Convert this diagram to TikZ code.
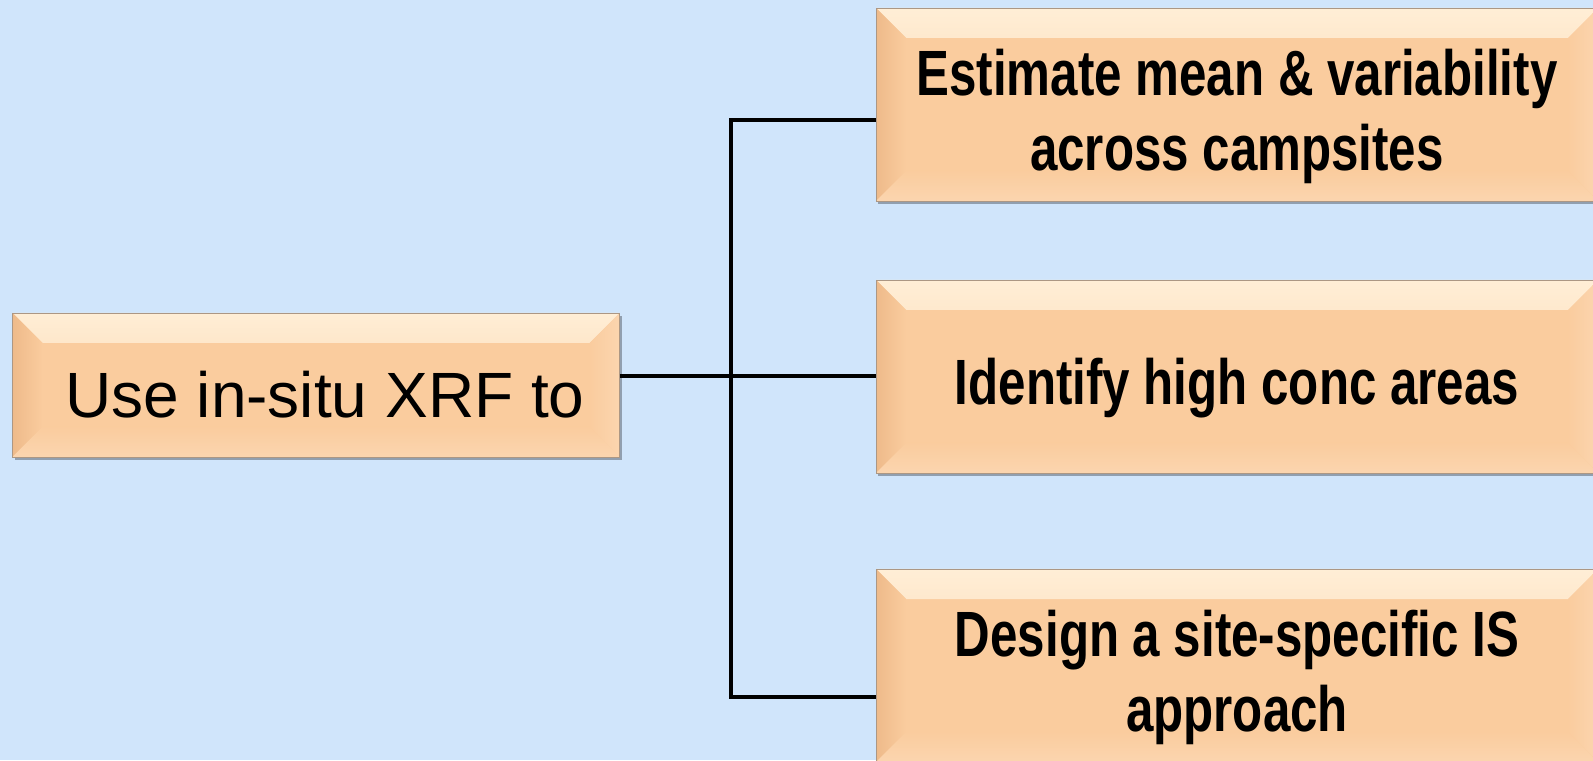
\documentclass[tikz,border=0pt]{standalone}
\usepackage{fontspec}
\usetikzlibrary{positioning, shadows}
\newfontfamily\leadfont{Liberation Sans}
\newfontfamily\taskfont[FakeStretch=0.77]{Liberation Sans}
\definecolor{bgblue}{RGB}{208,229,251}
\definecolor{peach}{RGB}{250,204,158}
\definecolor{peachlight}{RGB}{255,238,214}
\definecolor{peachedge}{RGB}{238,186,138}
\definecolor{peachpale}{RGB}{251,213,175}
\newcommand{\bevw}{15pt}
\tikzset{
  bevelbox/.style = {fill=peach, draw=gray!60!peachedge, line width=0.4pt, inner sep=0pt,
                     align=center,
                     drop shadow={shadow xshift=1pt, shadow yshift=-1.3pt, fill=black, opacity=0.3},
                     path picture={
    \shade[top color=peachlight, bottom color=peach] (path picture bounding box.north west)
      -- (path picture bounding box.north east)
      -- ([shift={(-\bevw,-\bevw)}]path picture bounding box.north east)
      -- ([shift={(\bevw,-\bevw)}]path picture bounding box.north west) -- cycle;
    \shade[left color=peachedge, right color=peach] (path picture bounding box.north west)
      -- (path picture bounding box.south west)
      -- ([shift={(\bevw,\bevw)}]path picture bounding box.south west)
      -- ([shift={(\bevw,-\bevw)}]path picture bounding box.north west) -- cycle;
    \shade[left color=peach, right color=peachpale] (path picture bounding box.north east)
      -- (path picture bounding box.south east)
      -- ([shift={(-\bevw,\bevw)}]path picture bounding box.south east)
      -- ([shift={(-\bevw,-\bevw)}]path picture bounding box.north east) -- cycle;
    \shade[top color=peach, bottom color=peachpale] (path picture bounding box.south west)
      -- (path picture bounding box.south east)
      -- ([shift={(-\bevw,\bevw)}]path picture bounding box.south east)
      -- ([shift={(\bevw,\bevw)}]path picture bounding box.south west) -- cycle;
  }},
  leadbox/.style  = {bevelbox, minimum width=303.5pt, minimum height=72pt,
                     font=\leadfont\fontsize{32}{38}\selectfont,
                     execute at begin node={\hspace*{9pt}\rule{0pt}{33pt}}},
  taskbox/.style  = {bevelbox, minimum width=361pt, minimum height=96.5pt,
                     font=\taskfont\bfseries\fontsize{32}{37.5}\selectfont,
                     execute at begin node={\rule{0pt}{35pt}}},
  taskbox2/.style = {taskbox, execute at begin node={\rule{0pt}{73pt}}},
  link/.style     = {draw=black, line width=1.8pt},
}

\begin{document}
\begin{tikzpicture}[x=1pt, y=1pt]
  \fill[bgblue] (0,0) rectangle (796.5,380);
  \useasboundingbox (0,0) rectangle (796.5,380);

  \node[leadbox] (use) at (158,187.5) {Use in-situ XRF to};
  \node[taskbox2] (est) at (618.5,327.75) {Estimate mean \& variability\\across campsites};
  \node[taskbox] (ident) at (618.5,191.75) {Identify high conc areas};
  \node[taskbox2] (des) at (618.5,47.25) {Design a site-specific IS\\approach};

  % fork of the connector
  \coordinate (fork) at (365.5,192);
  \coordinate (ftop) at (365.5,320);
  \coordinate (fbot) at (365.5,31.5);

  \draw[link] (use.east |- fork) -- (ident.west |- fork);
  \draw[link] (est.west |- ftop) -- (ftop) -- (fbot) -- (des.west |- fbot);
\end{tikzpicture}
\end{document}
